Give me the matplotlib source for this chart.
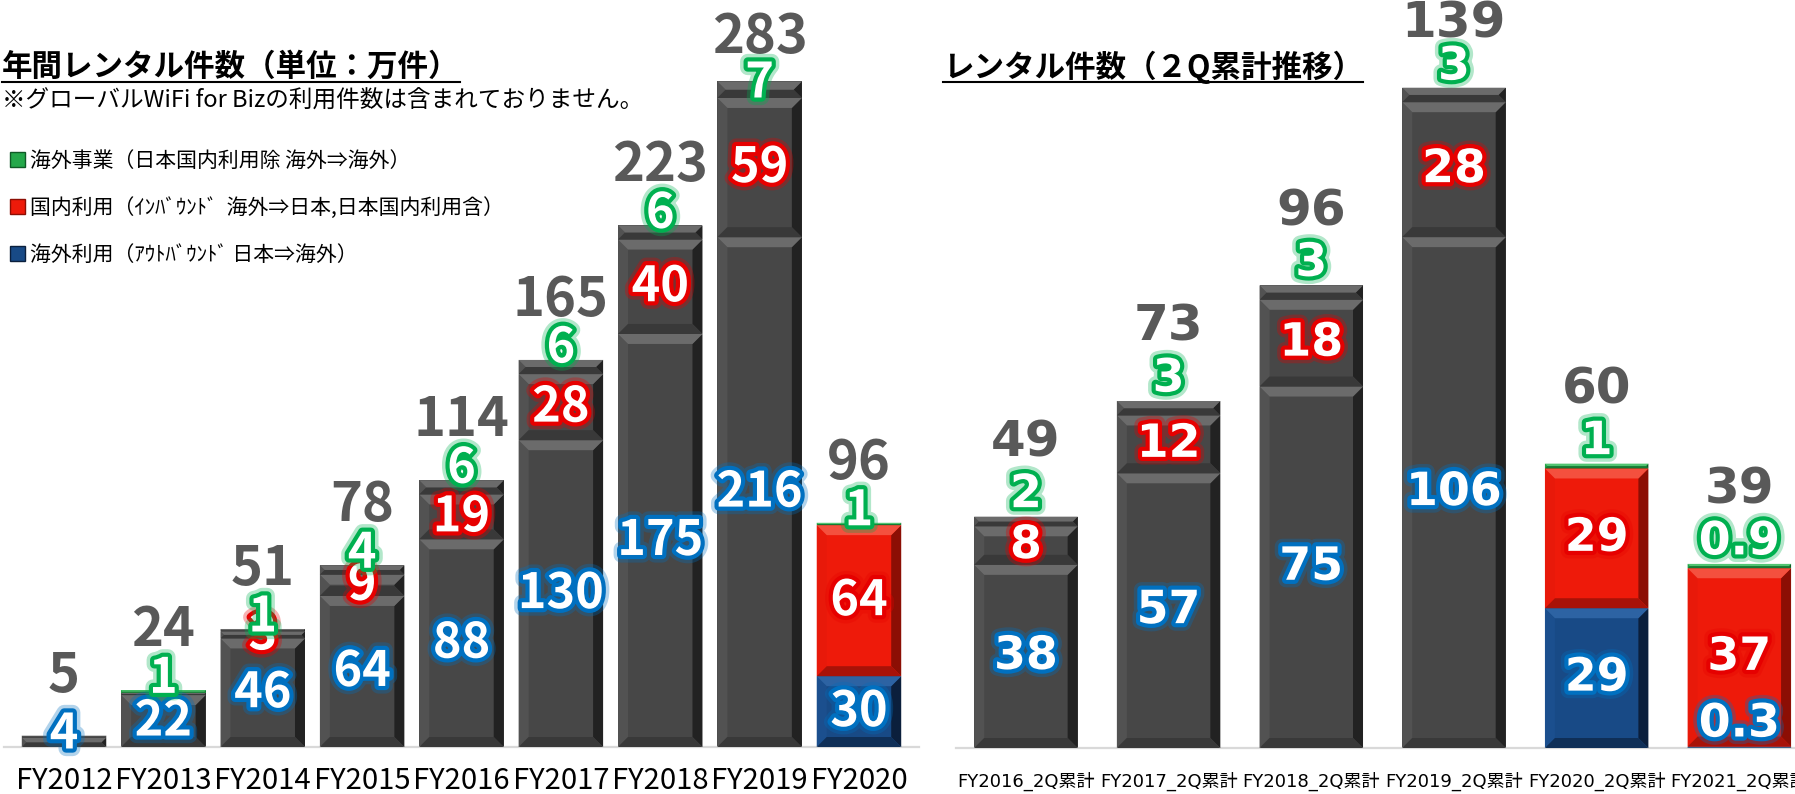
import matplotlib
matplotlib.use('Agg')
import matplotlib.pyplot as plt
from matplotlib import patheffects as pe
from matplotlib.patches import Polygon, Patch
from matplotlib.lines import Line2D

plt.rcParams['font.family'] = ['Noto Sans CJK JP', 'DejaVu Sans']

W, H = 1795, 794

# annual rentals (unit: 10k)
years = ['FY2012', 'FY2013', 'FY2014', 'FY2015', 'FY2016', 'FY2017', 'FY2018', 'FY2019', 'FY2020']
yr_out = [4, 22, 46, 64, 88, 130, 175, 216, 30]     # 海外利用 (outbound)
yr_in = [0.5, 1, 3, 9, 19, 28, 40, 59, 64]          # 国内利用 (inbound)
yr_biz = [0.3, 1, 1, 4, 6, 6, 6, 7, 1]              # 海外事業
yr_out_lbl = ['4', '22', '46', '64', '88', '130', '175', '216', '30']
yr_in_lbl = ['', '', '3', '9', '19', '28', '40', '59', '64']
yr_biz_lbl = ['', '1', '1', '4', '6', '6', '6', '7', '1']
yr_total = [5, 24, 51, 78, 114, 165, 223, 283, 96]
yr_colored = [0, 0, 0, 0, 0, 0, 0, 0, 1]
yr_biz_colored = [0, 1, 0, 0, 0, 0, 0, 0, 1]

# first half (2Q cumulative)
halves = ['FY2016_2Q累計', 'FY2017_2Q累計', 'FY2018_2Q累計', 'FY2019_2Q累計', 'FY2020_2Q累計', 'FY2021_2Q累計']
hf_out = [38, 57, 75, 106, 29, 0.3]
hf_in = [8, 12, 18, 28, 29, 37]
hf_biz = [2, 3, 3, 3, 1, 0.9]
hf_out_lbl = ['38', '57', '75', '106', '29', '0.3']
hf_in_lbl = ['8', '12', '18', '28', '29', '37']
hf_biz_lbl = ['2', '3', '3', '3', '1', '0.9']
hf_total = [49, 73, 96, 139, 60, 39]
hf_colored = [0, 0, 0, 0, 1, 1]
hf_biz_colored = [0, 0, 0, 0, 1, 1]

legend_labels = ['海外事業（日本国内利用除 海外⇒海外）',
                 '国内利用（ｲﾝﾊﾞｳﾝﾄﾞ  海外⇒日本,日本国内利用含）',
                 '海外利用（ｱｳﾄﾊﾞｳﾝﾄﾞ 日本⇒海外）']

GRAY = dict(main='#474747', top='#6b6b6b', bot='#393939', left='#525252', right='#222222')
RED = dict(main='#ee1a0a', top='#f4503e', bot='#a81208', left='#e8190a', right='#8c0e04')
BLUE = dict(main='#184a86', top='#2d63a3', bot='#0f2f57', left='#1b4f8e', right='#0b1f3c')
GREEN = dict(main='#24a84a', top='#52c472', bot='#167a34', left='#22a246', right='#0f5a26')

GLOW_BLUE, GLOW_RED, GLOW_GREEN = '#0070c0', '#e60000', '#00b050'


def glow(c):
    return [pe.Stroke(linewidth=11, foreground=c, alpha=0.3),
            pe.Stroke(linewidth=6, foreground=c), pe.Normal()]


def seg(ax, x, bottom, h, w, pal, bx, by):
    ax.bar(x, h, w, bottom=bottom, color=pal['main'], linewidth=0, zorder=2)
    t = min(by, h / 2)
    s = bx * t / by
    x0, x1, y0, y1 = x - w / 2, x + w / 2, bottom, bottom + h
    faces = [
        ([(x0, y0), (x0 + s, y0 + t), (x0 + s, y1 - t), (x0, y1)], pal['left']),
        ([(x1, y0), (x1 - s, y0 + t), (x1 - s, y1 - t), (x1, y1)], pal['right']),
        ([(x0, y0), (x1, y0), (x1 - s, y0 + t), (x0 + s, y0 + t)], pal['bot']),
        ([(x0, y1), (x1, y1), (x1 - s, y1 - t), (x0 + s, y1 - t)], pal['top']),
    ]
    for pts, c in faces:
        ax.add_patch(Polygon(pts, closed=True, facecolor=c, edgecolor='none', zorder=3))


def panel(ax, cats, out_v, in_v, biz_v, out_l, in_l, biz_l, totals, colored, biz_colored, cfg):
    n = len(cats)
    ax.set_xlim(*cfg['xlim'])
    ax.set_ylim(0, cfg['ytop'])
    p0 = ax.transData.transform((0, 0))
    p1 = ax.transData.transform((1, 1))
    ppx, ppy = p1[0] - p0[0], p1[1] - p0[1]
    bx, by = 10 / ppx, 10 / ppy
    w = cfg['width']
    fam, nsize = cfg['num_family'], cfg['num_size']

    for i in range(n):
        c = colored[i]
        pals = [BLUE if c else GRAY, RED if c else GRAY, GREEN if biz_colored[i] else GRAY]
        b = 0
        for v, pal in zip([out_v[i], in_v[i], biz_v[i]], pals):
            seg(ax, i, b, v, w, pal, bx, by)
            b += v
        top = b

        # total above the stack, kept inside the chart
        yt = min(top + cfg['tot_px'] / ppy, cfg['ytop'] - cfg['tot_min_px'] / ppy)
        ax.text(i, yt, str(totals[i]), ha='center', va='baseline', fontsize=cfg['tot_size'],
                family=fam, weight='bold', color='#595959', zorder=6)

        # segment labels
        yb = max(out_v[i] / 2, cfg['low_px'] / ppy)
        if out_l[i]:
            ax.text(i, yb, out_l[i], ha='center', va='center', fontsize=nsize, family=fam,
                    weight='bold', color='white', path_effects=glow(GLOW_BLUE), zorder=6)
        if in_l[i]:
            ax.text(i, out_v[i] + in_v[i] / 2, in_l[i], ha='center', va='center', fontsize=nsize,
                    family=fam, weight='bold', color='white', path_effects=glow(GLOW_RED), zorder=6)
        if biz_l[i]:
            yg = min(top + cfg['green_px'] / ppy, yt - cfg['green_gap_px'] / ppy)
            ax.text(i, yg, biz_l[i], ha='center', va='center', fontsize=nsize,
                    family=fam, weight='bold', color='white', path_effects=glow(GLOW_GREEN), zorder=7)

    ax.set_xticks(list(range(n)))
    ax.set_xticklabels(cats, fontsize=cfg['tick_size'], family=cfg['tick_family'])
    ax.tick_params(axis='x', length=0, pad=cfg['tick_pad'])
    ax.set_yticks([])
    for s in ['top', 'left', 'right']:
        ax.spines[s].set_visible(False)
    ax.spines['bottom'].set_color('#d9d9d9')
    ax.spines['bottom'].set_linewidth(1.6)
    ax.patch.set_alpha(0)


fig = plt.figure(figsize=(W / 100, H / 100), dpi=100)

ax1 = fig.add_axes([4.4 / W, 47 / H, 914.2 / W, 747 / H])
panel(ax1, years, yr_out, yr_in, yr_biz, yr_out_lbl, yr_in_lbl, yr_biz_lbl, yr_total,
      yr_colored, yr_biz_colored,
      dict(xlim=(-0.6, 8.6), ytop=316.5, width=0.85, num_family=['Noto Sans CJK JP'],
           num_size=35, tot_size=39, low_px=13, green_px=12, green_gap_px=30, tot_px=44,
           tot_min_px=53, tick_size=21, tick_family=['Noto Sans CJK JP'], tick_pad=14))

ax2 = fig.add_axes([956 / W, 46 / H, 839 / W, 748 / H])
panel(ax2, halves, hf_out, hf_in, hf_biz, hf_out_lbl, hf_in_lbl, hf_biz_lbl, hf_total,
      hf_colored, hf_biz_colored,
      dict(xlim=(-0.49, 5.39), ytop=155.2, width=0.725, num_family=['DejaVu Sans'],
           num_size=33, tot_size=36, low_px=24, green_px=22, green_gap_px=30, tot_px=60,
           tot_min_px=37, tick_size=13, tick_family=['DejaVu Sans', 'Noto Sans CJK JP'], tick_pad=17))

# titles
t1 = fig.text(2 / W, 1 - 67 / H, '年間レンタル件数（単位：万件）', fontsize=22, weight='bold', va='center')
fig.text(2 / W, 1 - 101 / H, '※グローバルWiFi for Bizの利用件数は含まれておりません。', fontsize=17, va='center')
t2 = fig.text(943 / W, 1 - 67 / H, 'レンタル件数（２Q累計推移）', fontsize=22, weight='bold', va='center')

# legend
handles = [Patch(facecolor=GREEN['main'], edgecolor=GREEN['right']),
           Patch(facecolor=RED['main'], edgecolor=RED['right']),
           Patch(facecolor=BLUE['main'], edgecolor=BLUE['right'])]
fig.legend(handles, legend_labels, loc='upper left', bbox_to_anchor=(10 / W, 1 - 150 / H),
           frameon=False, fontsize=15, handlelength=0.7, handleheight=0.7, handletextpad=0.25,
           labelspacing=1.2, borderpad=0, borderaxespad=0)

# underline the titles
fig.canvas.draw()
r = fig.canvas.get_renderer()
for t in (t1, t2):
    bb = t.get_window_extent(r)
    fig.add_artist(Line2D([bb.x0 / W, bb.x1 / W], [1 - 82 / H, 1 - 82 / H],
                          transform=fig.transFigure, color='black', linewidth=1.5))

fig.savefig('out.png', dpi=100)
